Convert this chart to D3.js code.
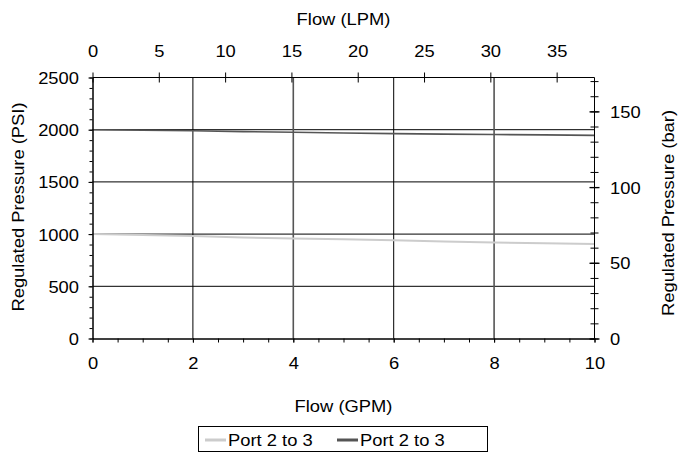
<!DOCTYPE html>
<html><head><meta charset="utf-8">
<script src="https://cdn.jsdelivr.net/npm/d3@7"></script>
<style>
html,body{margin:0;padding:0;background:#fff;}
text{font-family:"Liberation Sans",Arial,sans-serif;fill:#000;}
</style></head>
<body><svg id="c" width="680" height="454"></svg>
<script>
// ---- data ----
const flowGPM = [0,1,2,3,4,5,6,7,8,9,10];
const portLight = [1000,992,982,968,958,950,940,930,920,912,905]; // PSI
const portDark  = [2000,1995,1990,1982,1975,1968,1962,1958,1954,1950,1946]; // PSI
const seriesNames = ["Port 2 to 3","Port 2 to 3"];
const gpmTicks = [0,2,4,6,8,10];
const lpmTicks = [0,5,10,15,20,25,30,35];
const psiTicks = [0,500,1000,1500,2000,2500];
const barTicks = [0,50,100,150];
const xTitleBottom = "Flow (GPM)";
const xTitleTop = "Flow (LPM)";
const yTitleLeft = "Regulated Pressure (PSI)";
const yTitleRight = "Regulated Pressure (bar)";

const SX = 1.08, FS = 17;
const L = 92.5, R = 594.5, T = 77.5, B = 338.5;
const svg = d3.select("#c");

const x = d3.scaleLinear().domain([0,10]).range([L,R]);
const xl = d3.scaleLinear().domain([0,10*3.78541]).range([L,R]);
const y = d3.scaleLinear().domain([0,2500]).range([B,T]);
const yb = d3.scaleLinear().domain([0,2500/14.5038]).range([B,T]);

function stretch(sel){
  sel.each(function(){
    const t=d3.select(this);
    const xv=+(t.attr("x")||0);
    t.attr("x", xv/SX).attr("transform", (t.attr("transform")||"")+` scale(${SX},1)`);
  });
}

// gridlines
const grid = svg.append("g");
grid.selectAll("line.h").data(psiTicks.filter(d=>d>0&&d<2500)).join("line")
  .attr("x1",L).attr("x2",R).attr("y1",d=>y(d)).attr("y2",d=>y(d))
  .attr("stroke","#000").attr("stroke-width",1);
grid.selectAll("line.v").data(gpmTicks.filter(d=>d>0&&d<10)).join("line")
  .attr("y1",T).attr("y2",B).attr("x1",d=>x(d)).attr("x2",d=>x(d))
  .attr("stroke",d=>(d===4||d===8)?"#555":"#000").attr("stroke-width",d=>(d===4||d===8)?1.6:1);

// series
const line = d3.line().x((d,i)=>x(flowGPM[i])).y(d=>y(d));
svg.append("path").datum(portLight).attr("d",line).attr("fill","none")
  .attr("stroke","#cccccc").attr("stroke-width",2);
svg.append("path").datum(portDark).attr("d",line).attr("fill","none")
  .attr("stroke","#555555").attr("stroke-width",1.6);

// left axis
const gL = svg.append("g").attr("transform",`translate(${L},0)`);
gL.call(d3.axisLeft(y).tickValues(d3.range(0,2501,100)).tickSize(3).tickSizeOuter(0).tickFormat(""));
const gL2 = svg.append("g").attr("transform",`translate(${L},0)`);
gL2.call(d3.axisLeft(y).tickValues(psiTicks).tickSize(4).tickSizeOuter(0).tickFormat(d3.format("d")));
gL2.selectAll("text").attr("x",-13.5).attr("dy","0.35em").style("font-size",FS+"px").call(stretch);

// bottom axis
const gB = svg.append("g").attr("transform",`translate(0,${B})`);
gB.call(d3.axisBottom(x).tickValues(d3.range(0,10.01,0.5)).tickSize(4).tickSizeOuter(0).tickFormat(""));
const gB2 = svg.append("g").attr("transform",`translate(0,${B})`);
gB2.call(d3.axisBottom(x).tickValues(gpmTicks).tickSize(4).tickSizeOuter(0).tickFormat(d3.format("d")));
gB2.selectAll("text").attr("y",31).attr("dy",0).style("font-size",FS+"px").call(stretch);

// top axis (LPM)
const gT = svg.append("g").attr("transform",`translate(0,${T})`);
gT.call(d3.axisTop(xl).tickValues(lpmTicks).tickSize(5).tickSizeOuter(0).tickFormat(d3.format("d")));
gT.select(".domain").attr("d",`M${L},0H${R}`);
gT.selectAll(".tick line").attr("y1",5).attr("y2",-5);
gT.selectAll("text").attr("y",-20.5).attr("dy",0).style("font-size",FS+"px").call(stretch);

// right axis (bar)
const gR = svg.append("g").attr("transform",`translate(${R},0)`);
gR.call(d3.axisRight(yb).tickValues(d3.range(0,171,10)).tickSize(4).tickSizeOuter(0).tickFormat(""));
gR.selectAll(".tick line").attr("x1",-4).attr("x2",4);
gR.select(".domain").attr("d",`M0,${T}V${B}`);
const gR2 = svg.append("g").attr("transform",`translate(${R},0)`);
gR2.call(d3.axisRight(yb).tickValues(barTicks).tickSize(5).tickSizeOuter(0).tickFormat(d3.format("d")));
gR2.selectAll(".tick line").attr("x1",-5).attr("x2",5).attr("stroke-width",1.3);
gR2.select(".domain").remove();
gR2.selectAll("text").attr("x",15.5).attr("dy","0.35em").style("font-size",FS+"px").call(stretch);

svg.selectAll(".domain").attr("stroke","#000");

// titles
const cx = (L+R)/2;
svg.append("text").attr("text-anchor","middle").attr("transform",`translate(${cx},24.5) scale(${SX},1)`)
  .style("font-size",FS+"px").text(xTitleTop);
svg.append("text").attr("text-anchor","middle").attr("transform",`translate(${cx},412) scale(${SX},1)`)
  .style("font-size",FS+"px").text(xTitleBottom);
svg.append("text").attr("text-anchor","middle").attr("dy","0.35em")
  .attr("transform",`translate(18,207) rotate(-90) scale(${SX},1)`)
  .style("font-size",FS+"px").text(yTitleLeft);
svg.append("text").attr("text-anchor","middle").attr("dy","0.35em")
  .attr("transform",`translate(668,213) rotate(-90) scale(${SX},1)`)
  .style("font-size",FS+"px").text(yTitleRight);

// legend
const lg = svg.append("g");
lg.append("rect").attr("x",198.5).attr("y",426.5).attr("width",289).attr("height",25)
  .attr("fill","#fff").attr("stroke","#000").attr("stroke-width",1);
const legItems = [{name:seriesNames[0],color:"#cccccc",x0:205},{name:seriesNames[1],color:"#555555",x0:337}];
legItems.forEach(it=>{
  lg.append("line").attr("x1",it.x0).attr("x2",it.x0+21).attr("y1",440).attr("y2",440)
    .attr("stroke",it.color).attr("stroke-width",3);
  lg.append("text").attr("transform",`translate(${it.x0+23},445.5) scale(${SX},1)`)
    .style("font-size",FS+"px").text(it.name);
});
</script></body></html>
